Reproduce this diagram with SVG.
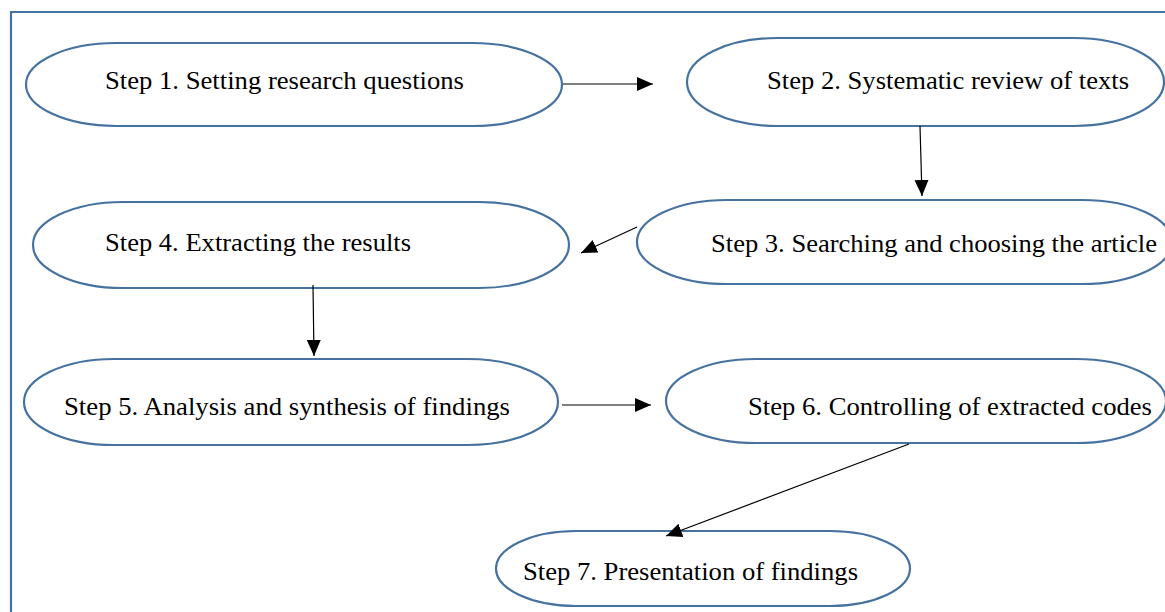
<svg xmlns="http://www.w3.org/2000/svg" width="1165" height="612" viewBox="0 0 1165 612">
<defs>
<style>
.node{fill:#fff;stroke:#4672a0;stroke-width:2.2}
text{font-family:'Liberation Serif','Times New Roman','DejaVu Serif',serif;font-size:26px;fill:#000}
.edge{stroke:#000;stroke-width:1.2;fill:none;marker-end:url(#ah)}
</style>
<marker id="ah" markerUnits="userSpaceOnUse" markerWidth="16" markerHeight="16" viewBox="0 0 16 16" refX="16" refY="8" orient="auto">
<path d="M0,1 L16,8 L0,15 Z" fill="#000"/>
</marker>
</defs>
<rect width="1165" height="612" fill="#fff"/>
<path d="M11,620 L11,12 L1175,12" fill="none" stroke="#4672a0" stroke-width="2.2"/>
<g id="step1"><rect class="node" x="26" y="43" width="536" height="83" rx="90" ry="41.5"/><text x="105" y="89" textLength="359" lengthAdjust="spacingAndGlyphs">Step 1. Setting research questions</text></g>
<g id="step2"><rect class="node" x="687" y="38" width="477" height="88" rx="90" ry="44"/><text x="767" y="89" textLength="362" lengthAdjust="spacingAndGlyphs">Step 2. Systematic review of texts</text></g>
<g id="step3"><rect class="node" x="637" y="200" width="535" height="84" rx="90" ry="42"/><text x="711" y="252" textLength="446" lengthAdjust="spacingAndGlyphs">Step 3. Searching and choosing the article</text></g>
<g id="step4"><rect class="node" x="33" y="202" width="536" height="86" rx="90" ry="43"/><text x="105" y="251" textLength="306" lengthAdjust="spacingAndGlyphs">Step 4. Extracting the results</text></g>
<g id="step5"><rect class="node" x="24" y="359" width="534" height="86" rx="90" ry="43"/><text x="64" y="415" textLength="446" lengthAdjust="spacingAndGlyphs">Step 5. Analysis and synthesis of findings</text></g>
<g id="step6"><rect class="node" x="666" y="359" width="500" height="84" rx="90" ry="42"/><text x="748" y="415" textLength="404" lengthAdjust="spacingAndGlyphs">Step 6. Controlling of extracted codes</text></g>
<g id="step7"><rect class="node" x="496" y="531" width="414" height="75" rx="80" ry="37.5"/><text x="523" y="580" textLength="335" lengthAdjust="spacingAndGlyphs">Step 7. Presentation of findings</text></g>
<g id="connectors">
<line class="edge" x1="563" y1="84" x2="653" y2="84"/>
<line class="edge" x1="920" y1="126" x2="922" y2="196"/>
<line class="edge" x1="637" y1="227" x2="581" y2="253"/>
<line class="edge" x1="313" y1="285" x2="314" y2="356"/>
<line class="edge" x1="562" y1="405" x2="651" y2="405"/>
<line class="edge" x1="909" y1="444" x2="666" y2="536"/>
</g>
</svg>
